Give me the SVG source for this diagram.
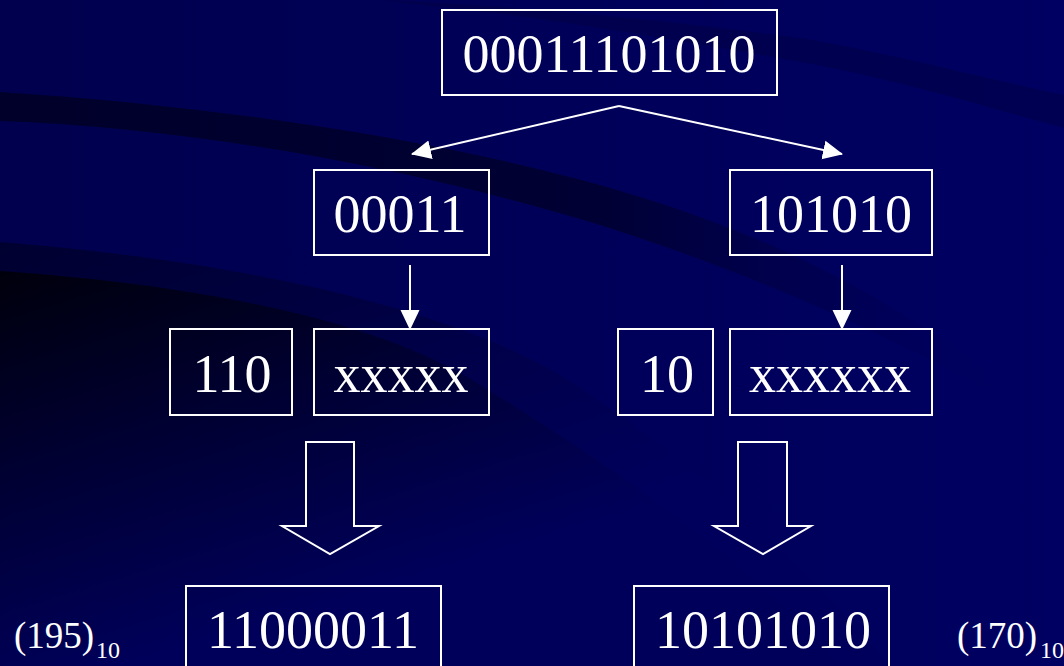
<svg xmlns="http://www.w3.org/2000/svg" width="1064" height="666" viewBox="0 0 1064 666">
<style>
.box{fill:none;stroke:#ffffff;stroke-width:2}
.t{font-family:"Liberation Serif","Times New Roman",serif;fill:#ffffff;font-size:54px;text-anchor:middle}
.lbl{font-family:"Liberation Serif","Times New Roman",serif;fill:#ffffff;font-size:37px}
.sub{font-size:24px}
.conn{stroke:#ffffff;stroke-width:2;fill:none}
.big{fill:none;stroke:#ffffff;stroke-width:2;stroke-linejoin:miter}
</style>
<defs>
<linearGradient id="base" x1="0" y1="0" x2="1" y2="0">
<stop offset="0" stop-color="#00004e"/>
<stop offset="1" stop-color="#000062"/>
</linearGradient>
<linearGradient id="band1" x1="0" y1="0" x2="1000" y2="0" gradientUnits="userSpaceOnUse">
<stop offset="0" stop-color="#00002a"/>
<stop offset="0.6" stop-color="#000034"/>
<stop offset="1" stop-color="#000050" stop-opacity="0"/>
</linearGradient>
<linearGradient id="regA" x1="0" y1="240" x2="150" y2="666" gradientUnits="userSpaceOnUse">
<stop offset="0" stop-color="#000030"/>
<stop offset="1" stop-color="#00005c"/>
</linearGradient>
<linearGradient id="regB" x1="0" y1="270" x2="120" y2="666" gradientUnits="userSpaceOnUse">
<stop offset="0" stop-color="#00000c"/>
<stop offset="0.45" stop-color="#000030"/>
<stop offset="1" stop-color="#00005a"/>
</linearGradient>
<marker id="ah" viewBox="0 0 20 20" refX="19" refY="10" markerWidth="20" markerHeight="20" markerUnits="userSpaceOnUse" orient="auto">
<path d="M0,0.5 L20,10 L0,19.5 Z" fill="#ffffff"/>
</marker>
</defs>
<g id="background">
<rect x="0" y="0" width="1064" height="666" fill="url(#base)"/>
<path d="M380,0 C560,8 700,25 800,38 C900,55 990,80 1064,95 L1064,128 C980,105 880,75 790,60 C650,35 520,14 430,6 Z" fill="#000040" opacity="0.45"/>
<path d="M0,92 C200,105 420,135 600,185 C760,230 880,290 1000,380 L990,392 C860,320 740,270 600,225 C420,170 200,128 0,121 Z" fill="url(#band1)"/>
<path d="M0,242 C250,262 450,310 560,375 C680,450 800,560 890,666 L0,666 Z" fill="url(#regA)"/>
<path d="M0,271 C200,285 380,320 480,385 C620,470 760,570 840,666 L0,666 Z" fill="url(#regB)"/>
</g>
<g id="connectors">
<line class="conn" x1="619" y1="106" x2="412" y2="154" marker-end="url(#ah)"/>
<line class="conn" x1="619" y1="106" x2="842" y2="154" marker-end="url(#ah)"/>
<line class="conn" x1="410" y1="265" x2="410" y2="329" marker-end="url(#ah)"/>
<line class="conn" x1="842" y1="265" x2="842" y2="329" marker-end="url(#ah)"/>
<path class="big" d="M306,442 L354,442 L354,526 L379,526 L330,554 L282,526 L306,526 Z"/>
<path class="big" d="M738,442 L787,442 L787,526 L811,526 L763,554 L714,526 L738,526 Z"/>
</g>
<g id="n-root">
<rect class="box" x="442" y="10" width="335" height="85"/>
<text class="t" x="609" y="72">00011101010</text>
</g>
<g id="n-left">
<rect class="box" x="314" y="170" width="175" height="85"/>
<text class="t" x="400" y="232">00011</text>
</g>
<g id="n-right">
<rect class="box" x="730" y="170" width="202" height="85"/>
<text class="t" x="831" y="232">101010</text>
</g>
<g id="n-110">
<rect class="box" x="170" y="329" width="122" height="86"/>
<text class="t" x="232" y="392">110</text>
</g>
<g id="n-xxxxx">
<rect class="box" x="314" y="329" width="175" height="86"/>
<text class="t" x="401" y="392">xxxxx</text>
</g>
<g id="n-10">
<rect class="box" x="618" y="329" width="95" height="86"/>
<text class="t" x="667" y="392">10</text>
</g>
<g id="n-xxxxxx">
<rect class="box" x="730" y="329" width="202" height="86"/>
<text class="t" x="830" y="392">xxxxxx</text>
</g>
<g id="n-res-left">
<rect class="box" x="186" y="586" width="255" height="100"/>
<text class="t" x="313" y="648">11000011</text>
</g>
<g id="n-res-right">
<rect class="box" x="634" y="586" width="255" height="100"/>
<text class="t" x="763" y="648">10101010</text>
</g>
<g id="dec-left">
<text class="lbl" x="14" y="648">(195)<tspan class="sub" x="96" y="658">10</tspan></text>
</g>
<g id="dec-right">
<text class="lbl" x="957" y="648">(170)<tspan class="sub" x="1040" y="658">10</tspan></text>
</g>
</svg>
